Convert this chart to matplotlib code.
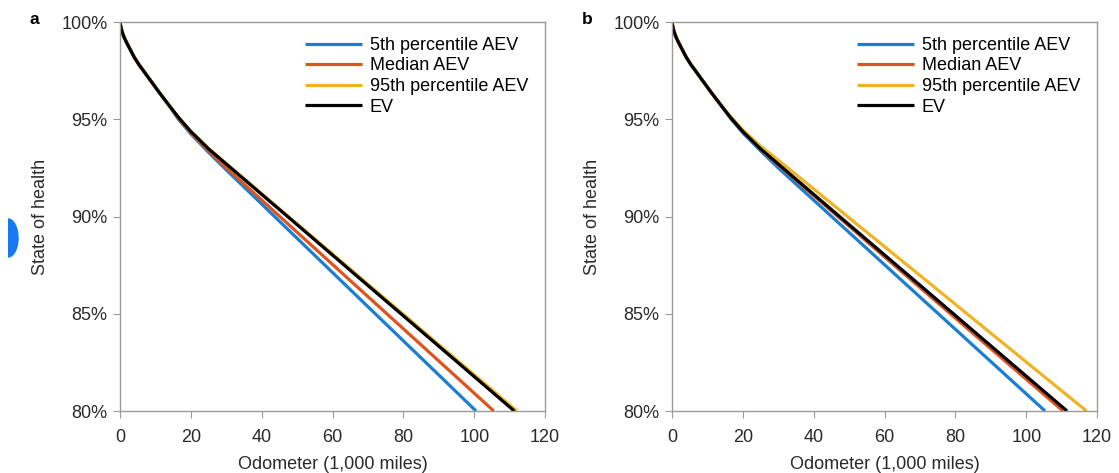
"""Battery state of health vs odometer, AEV percentiles vs EV (panels a and b)."""

import matplotlib
matplotlib.use("Agg")
import matplotlib.pyplot as plt
from matplotlib.patches import Ellipse, Rectangle
from matplotlib.ticker import FuncFormatter

plt.rcParams["font.family"] = ["Liberation Sans", "DejaVu Sans"]

# odometer points (1,000 miles) and state of health (%)
early_x = [0, 0.3, 0.7, 1.2, 2, 3, 4, 5.4, 7, 9, 11, 13.5]
early_soh = [100, 99.7, 99.45, 99.2, 98.9, 98.55, 98.2, 97.8, 97.4, 96.9, 96.4, 95.8]

late_x = [16.5, 20, 25, 30, 50, 70, 90]

# panel a
a_p5_x, a_p5_y = early_x + late_x + [100.5], early_soh + [95.0, 94.25, 93.3, 92.4, 88.88, 85.36, 81.85, 80.0]
a_med_x, a_med_y = early_x + late_x + [105.5], early_soh + [95.05, 94.3, 93.38, 92.5, 89.19, 85.88, 82.57, 80.0]
a_p95_x, a_p95_y = early_x + late_x + [112.0], early_soh + [95.1, 94.38, 93.5, 92.72, 89.62, 86.52, 83.41, 80.0]
a_ev_x, a_ev_y = early_x + late_x + [111.3], early_soh + [95.1, 94.37, 93.48, 92.7, 89.58, 86.45, 83.33, 80.0]

# panel b
b_p5_x, b_p5_y = early_x + late_x + [105.3], early_soh + [95.05, 94.3, 93.38, 92.5, 89.18, 85.86, 82.54, 80.0]
b_med_x, b_med_y = early_x + late_x + [110.4], early_soh + [95.1, 94.35, 93.45, 92.65, 89.5, 86.35, 83.2, 80.0]
b_p95_x, b_p95_y = early_x + late_x + [117.0], early_soh + [95.15, 94.45, 93.62, 92.9, 89.93, 86.97, 84.0, 80.0]
b_ev_x, b_ev_y = early_x + late_x + [111.5], early_soh + [95.1, 94.37, 93.48, 92.7, 89.58, 86.47, 83.35, 80.0]

labels = ["5th percentile AEV", "Median AEV", "95th percentile AEV", "EV"]
colors = ["#1a7fd2", "#de541e", "#f0b323", "#000000"]

panels = {
    "a": [(a_p5_x, a_p5_y), (a_med_x, a_med_y), (a_p95_x, a_p95_y), (a_ev_x, a_ev_y)],
    "b": [(b_p5_x, b_p5_y), (b_med_x, b_med_y), (b_p95_x, b_p95_y), (b_ev_x, b_ev_y)],
}

fig = plt.figure(figsize=(11.19, 4.73), dpi=100)
lefts = {"a": 0.1072, "b": 0.6005}
gray = "#9a9a9a"
txt = "#2a2a2a"

for name, series in panels.items():
    ax = fig.add_axes([lefts[name], 0.131, 0.380, 0.8224])
    for (xs, ys), lab, col in zip(series, labels, colors):
        ax.plot(xs, ys, color=col, lw=2.3, label=lab, solid_capstyle="butt")
    ax.set_xlim(0, 120)
    ax.set_ylim(80, 100)
    ax.set_xticks(range(0, 121, 20))
    ax.set_yticks(range(80, 101, 5))
    ax.yaxis.set_major_formatter(FuncFormatter(lambda v, _: f"{v:.0f}%"))
    for sp in ax.spines.values():
        sp.set_color(gray)
        sp.set_linewidth(1.0)
    ax.tick_params(direction="out", length=5, color=gray, labelsize=13,
                   labelcolor=txt, pad=4)
    ax.tick_params(axis="x", pad=8)
    ax.set_xlabel("Odometer (1,000 miles)", fontsize=13, color=txt, labelpad=7)
    ax.set_ylabel("State of health", fontsize=13, color=txt, labelpad=9)
    ax.legend(loc="upper right", bbox_to_anchor=(0.96, 0.962), frameon=False,
              fontsize=13, handlelength=3.15, handletextpad=0.44,
              labelspacing=0.2, borderaxespad=0.0, borderpad=0.0)
    fig.text(lefts[name] - 0.081, 0.958, name, fontsize=12.5, fontweight="bold",
             va="center", ha="left")

# blue tab at the left edge of the screenshot
clip = Rectangle((8, 0), 40, 473, transform=None)
tab = Ellipse((8, 473 - 238), 20, 38, transform=None, color="#1778f2")
fig.patches.append(tab)
tab.set_figure(fig)
tab.set_clip_path(clip)

fig.savefig("out.png", dpi=100)
